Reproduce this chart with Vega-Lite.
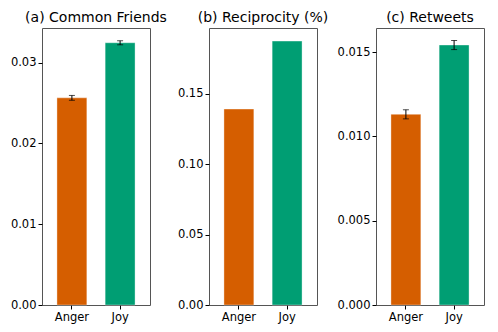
{
  "$schema": "https://vega.github.io/schema/vega-lite/v6.json",
  "bounds": "flush",
  "spacing": 59,
  "padding": {"left": 9, "top": 10, "right": 5, "bottom": 5},
  "config": {
    "font": "DejaVu Sans",
    "view": {"stroke": "#555555", "strokeWidth": 1},
    "title": {"fontSize": 14, "fontWeight": "normal", "color": "#000000", "offset": 3, "font": "DejaVu Sans"},
    "axis": {"labelFont": "DejaVu Sans", "labelFontSize": 11.5, "labelColor": "#000000", "tickColor": "#000000", "tickSize": 4, "domain": false, "grid": false, "title": null, "labelPadding": 2},
    "axisX": {"labelAngle": 0},
    "bar": {"stroke": "#ffffff", "strokeOpacity": 0.35, "strokeWidth": 1}
  },
  "hconcat": [
    {
      "width": 108, "height": 277,
      "title": "(a) Common Friends",
      "data": {"values": [
        {"emotion": "Anger", "value": 0.02565, "lo": 0.02535, "hi": 0.02595},
        {"emotion": "Joy", "value": 0.03247, "lo": 0.03222, "hi": 0.03272}
      ]},
      "layer": [
        {
          "mark": "bar",
          "encoding": {
            "x": {"field": "emotion", "type": "nominal", "sort": ["Anger", "Joy"], "title": null, "scale": {"paddingInner": 0.38, "paddingOuter": 0.31}},
            "y": {"field": "value", "type": "quantitative", "title": null, "scale": {"domain": [0, 0.0343], "nice": false}, "axis": {"values": [0, 0.01, 0.02, 0.03], "format": ".2f"}},
            "color": {"field": "emotion", "type": "nominal", "scale": {"domain": ["Anger", "Joy"], "range": ["#D55E00", "#009E73"]}, "legend": null}
          }
        },
        {
          "mark": {"type": "errorbar", "ticks": {"size": 6, "color": "#000000"}, "rule": {"color": "#000000", "strokeWidth": 1}},
          "encoding": {
            "x": {"field": "emotion", "type": "nominal", "sort": ["Anger", "Joy"], "title": null},
            "y": {"field": "lo", "type": "quantitative", "title": null},
            "y2": {"field": "hi"}
          }
        }
      ]
    },
    {
      "width": 108, "height": 277,
      "title": "(b) Reciprocity (%)",
      "data": {"values": [
        {"emotion": "Anger", "value": 0.139},
        {"emotion": "Joy", "value": 0.1872}
      ]},
      "mark": "bar",
      "encoding": {
        "x": {"field": "emotion", "type": "nominal", "sort": ["Anger", "Joy"], "title": null, "scale": {"paddingInner": 0.38, "paddingOuter": 0.31}},
        "y": {"field": "value", "type": "quantitative", "title": null, "scale": {"domain": [0, 0.1965], "nice": false}, "axis": {"values": [0, 0.05, 0.1, 0.15], "format": ".2f"}},
        "color": {"field": "emotion", "type": "nominal", "scale": {"domain": ["Anger", "Joy"], "range": ["#D55E00", "#009E73"]}, "legend": null}
      }
    },
    {
      "width": 108, "height": 277,
      "title": "(c) Retweets",
      "data": {"values": [
        {"emotion": "Anger", "value": 0.01131, "lo": 0.01104, "hi": 0.01158},
        {"emotion": "Joy", "value": 0.01542, "lo": 0.01515, "hi": 0.01569}
      ]},
      "layer": [
        {
          "mark": "bar",
          "encoding": {
            "x": {"field": "emotion", "type": "nominal", "sort": ["Anger", "Joy"], "title": null, "scale": {"paddingInner": 0.38, "paddingOuter": 0.31}},
            "y": {"field": "value", "type": "quantitative", "title": null, "scale": {"domain": [0, 0.01643], "nice": false}, "axis": {"values": [0, 0.005, 0.01, 0.015], "format": ".3f"}},
            "color": {"field": "emotion", "type": "nominal", "scale": {"domain": ["Anger", "Joy"], "range": ["#D55E00", "#009E73"]}, "legend": null}
          }
        },
        {
          "mark": {"type": "errorbar", "ticks": {"size": 6, "color": "#000000"}, "rule": {"color": "#000000", "strokeWidth": 1}},
          "encoding": {
            "x": {"field": "emotion", "type": "nominal", "sort": ["Anger", "Joy"], "title": null},
            "y": {"field": "lo", "type": "quantitative", "title": null},
            "y2": {"field": "hi"}
          }
        }
      ]
    }
  ]
}
